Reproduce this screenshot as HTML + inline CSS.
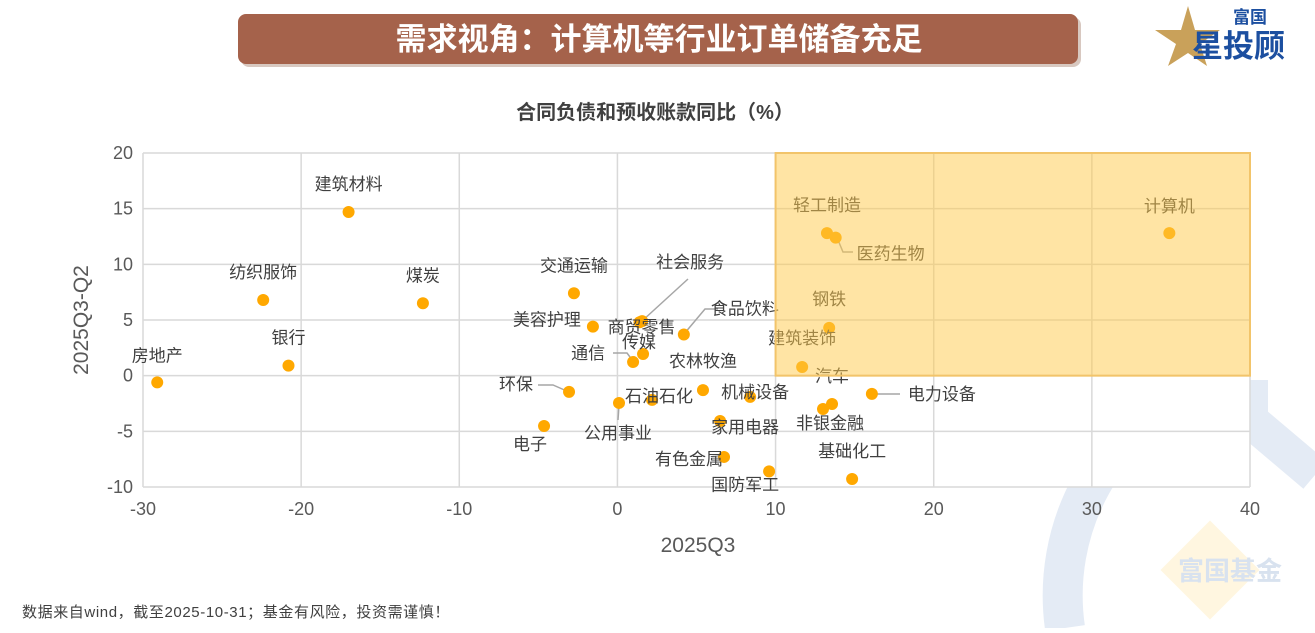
<!DOCTYPE html>
<html><head><meta charset="utf-8">
<style>
body{margin:0;width:1315px;height:628px;overflow:hidden;background:#fff;font-family:"Liberation Sans","Noto Sans CJK SC",sans-serif}
svg text{font-family:"Liberation Sans","Noto Sans CJK SC",sans-serif}
</style></head>
<body>
<svg id="c" width="1315" height="628" viewBox="0 0 1315 628">
  <g fill="none" stroke="#E4EBF5">
    <path d="M1065,628 A230,230 0 0 1 1200,385" stroke-width="40"/>
    <path d="M1250,380 L1250,420 L1315,475" stroke-width="36"/>
    <rect x="1175" y="535" width="70" height="70" transform="rotate(45 1210 570)" fill="#FFF6E0" stroke="none"/>
    <text x="1230" y="580" text-anchor="middle" font-size="26" font-weight="bold" fill="#D8E2EF" stroke="none">富国基金</text>
  </g>
  <rect x="241" y="17" width="840" height="50" rx="8" fill="#d8c8c0"/>
  <rect x="238" y="14" width="840" height="50" rx="8" fill="#A5624B"/>
  <text x="659" y="50" text-anchor="middle" font-size="31" font-weight="bold" fill="#fff">需求视角：计算机等行业订单储备充足</text>
  <g>
    <path d="M1188,6 L1195,30 L1220,30 L1200,44 L1207,66 L1188,53 L1168,66 L1176,44 L1155,30 L1181,30 Z" fill="#C9A15A"/>
    <text x="1233" y="23" font-size="17" font-weight="bold" fill="#1C4FA0">富国</text>
    <text x="1192" y="57" font-size="31" font-weight="bold" fill="#1C4FA0">星投顾</text>
  </g>
  <text x="655" y="119" text-anchor="middle" font-size="20" font-weight="bold" fill="#404040">合同负债和预收账款同比（%）</text>
  <rect x="143" y="153" width="1107" height="334" fill="#fff"/>
  <g id="grid"></g>
  <g id="axes"></g>
  <g id="pts"></g>
  <g id="hl"></g>
  <text x="698" y="552" text-anchor="middle" font-size="21" fill="#595959">2025Q3</text>
  <text x="88" y="320" text-anchor="middle" font-size="21" fill="#595959" transform="rotate(-90 88 320)">2025Q3-Q2</text>
  <text x="22" y="617" font-size="15" letter-spacing="0.6" fill="#404040">数据来自wind，截至2025-10-31；基金有风险，投资需谨慎！</text>
</svg>
<script>
const xTicks=[-30,-20,-10,0,10,20,30,40];
const yTicks=[-10,-5,0,5,10,15,20];
const names=["建筑材料","纺织服饰","煤炭","银行","房地产","交通运输","美容护理","社会服务","商贸零售","食品饮料","通信","传媒","农林牧渔","环保","石油石化","公用事业","电子","机械设备","家用电器","有色金属","国防军工","轻工制造","医药生物","计算机","钢铁","建筑装饰","汽车","非银金融","电力设备","基础化工"];
const xVals=[-17.0,-22.4,-12.3,-20.8,-29.1,-2.75,-1.55,1.56,1.4,4.2,0.99,1.62,5.41,-3.06,2.19,0.1,-4.64,8.39,6.49,6.74,9.59,13.25,13.8,34.9,13.39,11.68,13.57,13.0,16.09,14.84];
const yVals=[14.7,6.8,6.5,0.9,-0.6,7.4,4.4,4.9,4.8,3.7,1.23,1.95,-1.3,-1.46,-2.18,-2.45,-4.52,-1.91,-4.07,-7.3,-8.6,12.8,12.4,12.8,4.29,0.78,-2.54,-2.99,-1.64,-9.28];
// label offsets (layout) relative to each point's center
const labelDx=[0,0,0,0,0,0,-46,48,2,61,-45,-4,0,-53,7,-1,-14,5,25,-35,-24,0,55,0,0,0,0,7,70,0];
const labelDy=[-28,-28,-28,-28,-27,-28,-7,-59,5,-26,-9,-12,-29,-8,-4,30,18,-5,6,2,13,-28,16,-27,-29,-29,-28,14,0,-28];
const leaders={7:[[688,279],[642,321]],9:[[718,309],[705,309],[684,334]],10:[[613,353],[627,353],[633,361]],13:[[538,385],[553,385],[569,392]],15:[[618,420],[619,405]],22:[[853,252],[843,252],[838,240]],28:[[900,394],[880,394],[872,394]]};
const NS="http://www.w3.org/2000/svg";
const L=143,R=1250,T=153,B=487;
const sx=v=>L+(v+30)/70*(R-L);
const sy=v=>T+(20-v)/30*(B-T);
function mk(tag,at,parent){const e=document.createElementNS(NS,tag);for(const k in at)e.setAttribute(k,at[k]);parent.appendChild(e);return e;}
const grid=document.getElementById('grid'),axes=document.getElementById('axes'),pts=document.getElementById('pts'),hl=document.getElementById('hl');
xTicks.forEach(t=>{
  const l=mk('line',{x1:sx(t),x2:sx(t),y1:T,y2:B,stroke:'#D9D9D9','stroke-width':1.5},grid);
  
  
  const tx=mk('text',{x:sx(t),y:B+28,'text-anchor':'middle','font-size':18,fill:'#595959'},axes);
  tx.textContent=t;
  
  
});
yTicks.forEach(t=>{
  const l=mk('line',{x1:L,x2:R,y1:sy(t),y2:sy(t),stroke:'#D9D9D9','stroke-width':1.5},grid);
  
  
  const tx=mk('text',{x:L-10,y:sy(t)+6,'text-anchor':'end','font-size':18,fill:'#595959'},axes);
  tx.textContent=t;
  
  
});
for(const k in leaders){
  const p=mk('polyline',{points:leaders[k].map(a=>a.join(',')).join(' '),fill:'none',stroke:'#A6A6A6','stroke-width':1.5},pts);
  
  
}
names.forEach((n,i)=>{
  const cx=sx(xVals[i]),cy=sy(yVals[i]);
  const c=mk('circle',{cx:cx,cy:cy,r:6,fill:'#FFA800'},pts);
  
  
  const t=mk('text',{x:cx+labelDx[i],y:cy+labelDy[i]+6,'text-anchor':'middle','font-size':17,fill:'#404040'},pts);
  t.textContent=n;
  
  
});
const r=mk('rect',{x:sx(10),y:sy(20),width:sx(40)-sx(10),height:sy(0)-sy(20),fill:'#FFC94A','fill-opacity':0.5,stroke:'#F2C46A','stroke-width':2},hl);


</script>
</body></html>
